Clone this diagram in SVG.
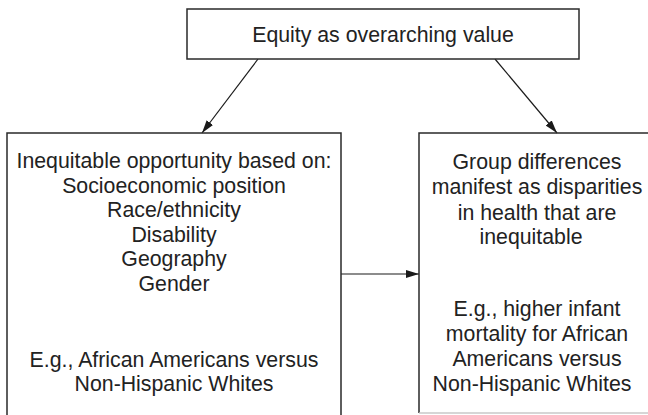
<svg xmlns="http://www.w3.org/2000/svg" width="648" height="415" viewBox="0 0 648 415">
<defs>
<marker id="ah" markerWidth="13" markerHeight="8" refX="13" refY="4" orient="auto" markerUnits="userSpaceOnUse">
<path d="M0,0 L13,4 L0,8 Z" fill="#1a1a1a"/>
</marker>
<style>
.box{fill:#fff;stroke:#2a2a2a;stroke-width:1.5}
.edge{fill:none;stroke:#2a2a2a;stroke-width:1.5}
.t{font-family:"Liberation Sans",Arial,sans-serif;font-size:21.3px;fill:#222;text-anchor:middle}
.c{stroke:#1a1a1a;stroke-width:1.2;fill:none;marker-end:url(#ah)}
</style>
</defs>
<rect width="648" height="415" fill="#fff"/>
<g id="connectors">
<line class="c" x1="258" y1="59" x2="202" y2="133"/>
<line class="c" x1="495" y1="59" x2="557" y2="133"/>
<line class="c" x1="341" y1="274" x2="419" y2="274"/>
</g>
<g id="top">
<rect class="box" x="187" y="9" width="392" height="50"/>
<text class="t" x="383" y="42">Equity as overarching value</text>
</g>
<g id="left">
<path class="edge" d="M7,420 V133 H341 V420"/>
<text class="t" x="174" y="168">Inequitable opportunity based on:</text>
<text class="t" x="174" y="192.5">Socioeconomic position</text>
<text class="t" x="174" y="217">Race/ethnicity</text>
<text class="t" x="174" y="241.5">Disability</text>
<text class="t" x="174" y="266">Geography</text>
<text class="t" x="174" y="291">Gender</text>
<text class="t" x="174" y="367">E.g., African Americans versus</text>
<text class="t" x="174" y="391">Non-Hispanic Whites</text>
</g>
<g id="right">
<path class="edge" d="M652,133 H419 V413"/>
<line x1="419" y1="413" x2="652" y2="413" stroke="#c8c8c8" stroke-width="1.5"/>
<text class="t" x="537" y="169">Group differences</text>
<text class="t" x="537" y="194">manifest as disparities</text>
<text class="t" x="537" y="219.5">in health that are</text>
<text class="t" x="531" y="244">inequitable</text>
<text class="t" x="537" y="316">E.g., higher infant</text>
<text class="t" x="537" y="341">mortality for African</text>
<text class="t" x="537" y="366">Americans versus</text>
<text class="t" x="532" y="391">Non-Hispanic Whites</text>
</g>
</svg>
